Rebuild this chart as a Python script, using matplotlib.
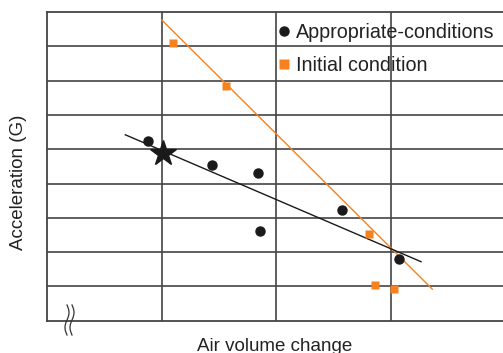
import matplotlib
matplotlib.use("Agg")
import matplotlib.pyplot as plt
from matplotlib.lines import Line2D
import numpy as np

plt.rcParams['font.family'] = ['Liberation Sans', 'DejaVu Sans']

# Data (grid units: x in columns, y in rows)
appropriate_x = [0.878, 1.436, 1.842, 1.857, 2.575, 3.069]
appropriate_y = [5.24, 4.54, 4.31, 2.62, 3.23, 1.81]
initial_x = [1.101, 1.563, 2.810, 2.862, 3.028]
initial_y = [8.10, 6.84, 2.52, 1.04, 0.92]
star_x = [1.014]
star_y = [4.90]
appropriate_trend_x = [0.683, 3.261]
appropriate_trend_y = [5.42, 1.72]
initial_trend_x = [1.0, 3.359]
initial_trend_y = [8.77, 0.92]
labels = ["Appropriate-conditions", "Initial condition"]
xlabel = "Air volume change"
ylabel = "Acceleration (G)"

ORANGE = '#F5821F'
GRID = '#444444'
TEXT = '#222222'

fig = plt.figure(figsize=(5.03, 3.53), dpi=100)
W, H = 503, 353
left, top, bottom = 47, 12, 320.7
ax = fig.add_axes([left / W, (H - bottom) / H, (W - left) / W, (bottom - top) / H])
ax.set_xlim(0, (W - left) / 114.7)
ax.set_ylim(0, 9)

ax.spines['right'].set_visible(False)
for s in ['left', 'top', 'bottom']:
    ax.spines[s].set_color(GRID)
    ax.spines[s].set_linewidth(1.3)
ax.set_xticks([1, 2, 3])
ax.set_yticks(np.arange(1, 9))
ax.tick_params(length=0, labelbottom=False, labelleft=False)
ax.grid(True, color=GRID, linewidth=1.2)
ax.set_axisbelow(True)

ax.plot(initial_trend_x, initial_trend_y, color=ORANGE, lw=1.0, zorder=2)
ax.plot(appropriate_trend_x, appropriate_trend_y, color='#1a1a1a', lw=1.0, zorder=2)
ax.plot(appropriate_x, appropriate_y, 'o', color='#1a1a1a', ms=6.5, zorder=3)
ax.plot(initial_x, initial_y, 's', color=ORANGE, ms=6, mec='none', zorder=3)
ax.plot(star_x, star_y, '*', color='#1a1a1a', ms=19, zorder=4)

ax.set_xlabel(xlabel, fontsize=13.5, color=TEXT, labelpad=12.5)
ax.set_ylabel(ylabel, fontsize=13.5, color=TEXT)
ax.yaxis.set_label_coords((19 - left) / (W - left), (bottom - 182) / (bottom - top))
ax.yaxis.label.set_va('center')

handles = [Line2D([], [], marker='o', ls='none', color='#1a1a1a', ms=6.5),
           Line2D([], [], marker='s', ls='none', color=ORANGE, mec='none', ms=6.5)]
leg = fig.legend(handles, labels, loc='upper left', bbox_to_anchor=(279 / W, 1 - 22.5 / H),
                 frameon=False, fontsize=14.2, handlelength=0.5, handletextpad=0.35,
                 borderpad=0, borderaxespad=0, labelspacing=0.73)
for t in leg.get_texts():
    t.set_color(TEXT)

# axis break marks on bottom axis
tr = fig.transFigure
tt = np.linspace(0, 1, 30)
for x0 in [67, 72]:
    yy = 305 + 30 * tt
    xx = x0 + 2.0 * np.sin(tt * 2 * np.pi)
    fig.add_artist(Line2D(xx / W, 1 - yy / H, transform=tr, color='#333333', lw=0.9))

fig.savefig('out.png', dpi=100)
